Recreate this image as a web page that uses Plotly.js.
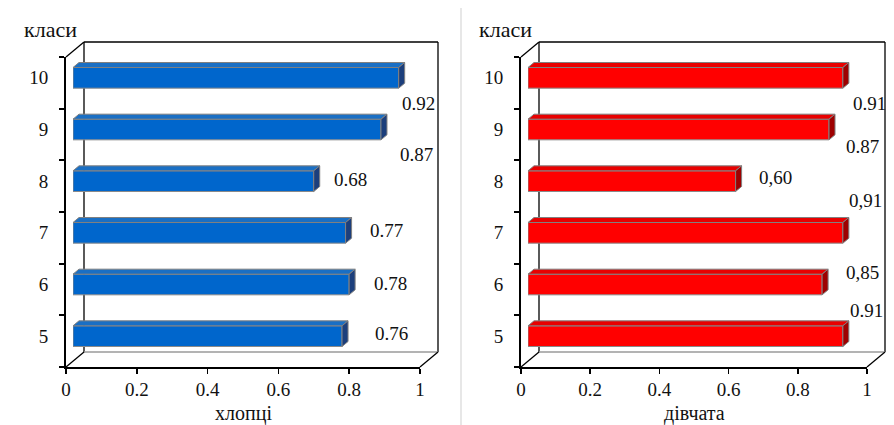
<!DOCTYPE html>
<html>
<head>
<meta charset="utf-8">
<script src="https://cdn.plot.ly/plotly-3.0.1.min.js"></script>
<style>
html,body{margin:0;padding:0;background:#fff;}
#chart{width:894px;height:425px;}
#chart svg text, #chart svg tspan { font-family: "Liberation Serif", "Times New Roman", Tinos, serif !important; }
</style>
</head>
<body>
<div id="chart"></div>
<script>
// ---- data ----
const classes = ['5', '6', '7', '8', '9', '10'];
const boys = [0.76, 0.78, 0.77, 0.68, 0.87, 0.92];
const girls = [0.91, 0.85, 0.91, 0.60, 0.87, 0.91];
const boysLabels = ['0.76', '0.78', '0.77', '0.68', '0.87', '0.92'];
const girlsLabels = ['0.91', '0,85', '0,91', '0,60', '0.87', '0.91'];
const xTickVals = [0, 0.2, 0.4, 0.6, 0.8, 1];
const xTickText = ['0', '0.2', '0.4', '0.6', '0.8', '1'];
const yTitle = 'класи';
const boysTitle = 'хлопці';
const girlsTitle = 'дівчата';

// ---- style / geometry ----
const W = 894, H = 425;
const SERIF = 'Liberation Serif';
const FS = 19;
const yTop = 57, yBot = 367;
const panels = [
  {x0: 66, x1: 420, values: boys, labels: boysLabels, title: boysTitle,
   front: '#0066cc', top: '#1a6fc4', side: '#1c3f7c',
   shifts: [[31, 3], [23, 1], [22, 2], [18, 2], [17, -25], [1, -26]]},
  {x0: 521, x1: 867, values: girls, labels: girlsLabels, title: girlsTitle,
   front: '#ff0000', top: '#e80000', side: '#9e0000',
   shifts: [[5, 26], [22, 12], [4, 32], [21, 4], [15, -17], [8, -26]]}
];
const barShift = [7, -5];   // bars sit a little behind the front plane
const wallShift = [18, -15]; // back wall
const depth = [6, -5];       // extrusion of each bar
const barHalf = 0.2;

const px = x => x / W;
const py = y => 1 - y / H;
const tf = (s) => ({family: SERIF, size: s, color: '#111111'});

const traces = [];
const layout = {
  width: W, height: H,
  margin: {l: 0, r: 0, t: 0, b: 0},
  font: {family: SERIF, size: FS, color: '#111111'},
  paper_bgcolor: '#ffffff',
  plot_bgcolor: 'rgba(0,0,0,0)',
  showlegend: false,
  annotations: [],
  shapes: []
};

const pos = classes.map((_, i) => i);

panels.forEach((p, k) => {
  const fx = k === 0 ? 'x' : 'x2';
  const fy = k === 0 ? 'y' : 'y2';
  const bx = k === 0 ? 'x3' : 'x4';
  const by = k === 0 ? 'y3' : 'y4';
  const fxName = k === 0 ? 'xaxis' : 'xaxis2';
  const fyName = k === 0 ? 'yaxis' : 'yaxis2';
  const bxName = k === 0 ? 'xaxis3' : 'xaxis4';
  const byName = k === 0 ? 'yaxis3' : 'yaxis4';
  const wpx = p.x1 - p.x0;
  const catPx = (yBot - yTop) / classes.length;
  const dxu = depth[0] / wpx;
  const dyu = -depth[1] / catPx;

  // empty trace so the front-plane subplot (axes only) is drawn
  traces.push({type: 'scatter', mode: 'markers', xaxis: fx, yaxis: fy, x: [null], y: [null], hoverinfo: 'skip'});

  // front plane axes
  layout[fxName] = {
    domain: [px(p.x0), px(p.x1)], range: [0, 1], anchor: fy,
    tickvals: xTickVals, ticktext: xTickText,
    ticks: 'outside', ticklen: 5, tickwidth: 1.5, tickcolor: '#000',
    showline: true, linecolor: '#000', linewidth: 1.5,
    showgrid: false, zeroline: false, fixedrange: true,
    tickfont: tf(FS)
  };
  layout[fyName] = {
    domain: [py(yBot), py(yTop)], range: [-0.5, classes.length - 0.5], anchor: fx,
    tickvals: classes.map((_, i) => i - 0.5).concat([classes.length - 0.5]),
    showticklabels: false,
    ticks: 'outside', ticklen: 5, tickwidth: 2, tickcolor: '#000',
    showline: true, linecolor: '#000', linewidth: 2,
    showgrid: false, zeroline: false, fixedrange: true
  };
  // bar plane axes (shifted back)
  layout[bxName] = {
    domain: [px(p.x0 + barShift[0]), px(p.x1 + barShift[0])], range: [0, 1], anchor: by,
    visible: false, fixedrange: true
  };
  layout[byName] = {
    domain: [py(yBot + barShift[1]), py(yTop + barShift[1])], range: [-0.5, classes.length - 0.5], anchor: bx,
    tickvals: pos, ticktext: classes,
    ticks: 'outside', ticklen: 20, tickcolor: 'rgba(0,0,0,0)',
    showline: false, showgrid: false, zeroline: false, fixedrange: true,
    tickfont: tf(FS)
  };

  // 3D faces
  p.values.forEach((v, i) => {
    traces.push({
      type: 'scatter', mode: 'lines', xaxis: bx, yaxis: by, hoverinfo: 'skip',
      x: [0, v, v + dxu, dxu, 0],
      y: [i + barHalf, i + barHalf, i + barHalf + dyu, i + barHalf + dyu, i + barHalf],
      fill: 'toself', fillcolor: p.top, line: {color: '#808080', width: 1}
    });
    traces.push({
      type: 'scatter', mode: 'lines', xaxis: bx, yaxis: by, hoverinfo: 'skip',
      x: [v, v + dxu, v + dxu, v, v],
      y: [i - barHalf, i - barHalf + dyu, i + barHalf + dyu, i + barHalf, i - barHalf],
      fill: 'toself', fillcolor: p.side, line: {color: '#808080', width: 1}
    });
  });
  traces.push({
    type: 'bar', orientation: 'h', xaxis: bx, yaxis: by, hoverinfo: 'skip',
    x: p.values, y: pos, width: barHalf * 2,
    marker: {color: p.front, line: {color: '#8a8a8a', width: 1}}
  });

  // value labels
  p.values.forEach((v, i) => {
    layout.annotations.push({
      xref: bx, yref: by, x: v, y: i, text: p.labels[i],
      xanchor: 'left', yanchor: 'middle', showarrow: false,
      xshift: p.shifts[i][0], yshift: p.shifts[i][1],
      font: tf(FS)
    });
  });

  // axis titles
  layout.annotations.push({
    xref: 'paper', yref: 'paper', x: px((p.x0 + p.x1) / 2), y: py(413),
    text: p.title, showarrow: false, xanchor: 'center', yanchor: 'middle',
    font: tf(FS + 1)
  });
  layout.annotations.push({
    xref: 'paper', yref: 'paper', x: px(p.x0 - 16), y: py(30),
    text: yTitle, showarrow: false, xanchor: 'center', yanchor: 'middle',
    font: tf(FS + 3)
  });

  // back wall and depth edges
  const wx0 = p.x0 + wallShift[0], wx1 = p.x1 + wallShift[0];
  const wyT = yTop + wallShift[1], wyB = yBot + wallShift[1];
  const ln = (x0, y0, x1, y1, c, w) => layout.shapes.push({
    type: 'line', xref: 'paper', yref: 'paper',
    x0: px(x0), y0: py(y0), x1: px(x1), y1: py(y1),
    line: {color: c, width: w}, layer: 'below'
  });
  ln(wx0, wyT, wx1, wyT, '#000', 1.3);
  ln(wx0, wyT, wx0, wyB, '#000', 1.3);
  ln(wx1, wyT, wx1, wyB, '#000', 1.3);
  ln(wx0, wyB, wx1, wyB, '#9a9a9a', 1.3);
  ln(p.x0, yTop, wx0, wyT, '#000', 1.3);
  ln(p.x0, yBot, wx0, wyB, '#000', 1.3);
  ln(p.x1, yBot, wx1, wyB, '#000', 1.3);
});

// separator between the two charts
layout.shapes.push({
  type: 'line', xref: 'paper', yref: 'paper',
  x0: px(461), x1: px(461), y0: py(8), y1: py(425),
  line: {color: '#cfcfcf', width: 1}
});

Plotly.newPlot('chart', traces, layout, {staticPlot: true});
</script>
</body>
</html>
